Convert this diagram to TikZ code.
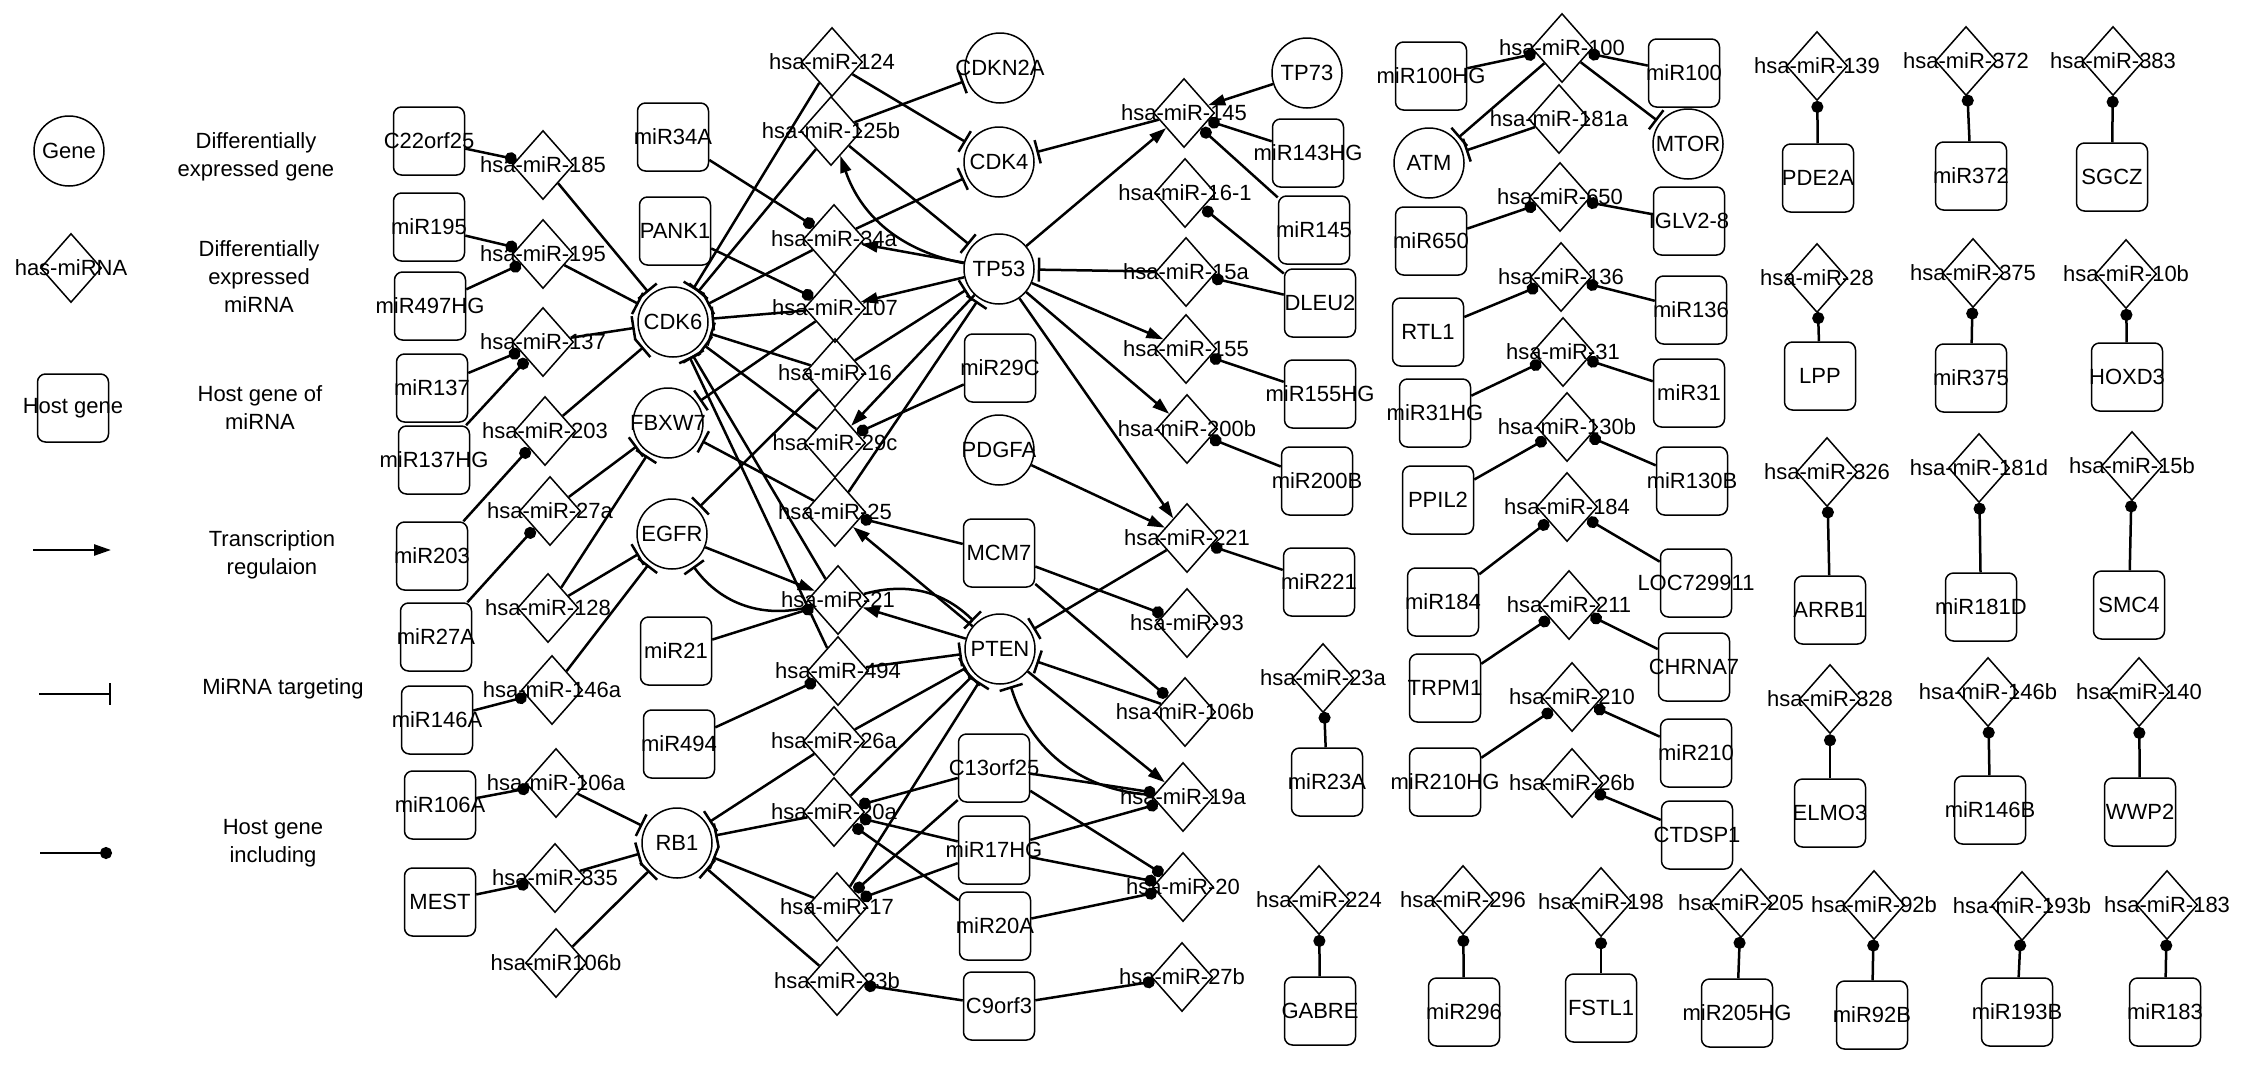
\documentclass[tikz,border=0pt]{standalone}
\usepackage{fontspec}
\setmainfont{Liberation Sans}
\usetikzlibrary{shapes.geometric,arrows.meta}
\tikzset{
  gene/.style={circle,draw,line width=1.5pt,minimum size=70pt,inner sep=0pt},
  mirna/.style={diamond,draw,line width=1.5pt,minimum width=61pt,minimum height=69pt,inner sep=0pt},
  host/.style={rectangle,rounded corners=8pt,draw,line width=1.5pt,minimum width=71pt,minimum height=68pt,inner sep=0pt},
  edge/.style={line width=2.5pt},
  tr/.style={edge,-{Triangle[length=17pt,width=11pt]}},
  tg/.style={edge,-{Bar[width=24pt]},shorten >=3pt},
  inc/.style={edge,-{Circle[length=12pt]}},
  legtext/.style={align=center,inner sep=0pt}
}
\newcommand\gn[3]{\node[gene,label={center:#3}] (#1) at (#2) {};}
\newcommand\hb[3]{\node[host,label={center:#3}] (#1) at (#2) {};}
\newcommand\mr[3]{\node[mirna,label={center:#3}] (#1) at (#2) {};}
\begin{document}
\begin{tikzpicture}[x=1pt,y=-1pt,font=\fontsize{22}{28}\selectfont]
\useasboundingbox (0,0) rectangle (2244,1082);
% ---------------- legend
\gn{LG}{69,151}{Gene}
\mr{LM}{71,268}{has-miRNA}
\hb{LH}{73,408}{Host gene}
\node[legtext] (t1) at (256,157) {Differentially\\expressed gene};
\node[legtext] (t2) at (259,277) {Differentially\\expressed\\miRNA};
\node[legtext] (t3) at (260,408) {Host gene of\\miRNA};
\node[legtext] (t4) at (272,555) {Transcription\\regulaion};
\node[legtext] (t5) at (283,689) {MiRNA targeting};
\node[legtext] (t6) at (273,843) {Host gene\\including};
\coordinate (la1) at (33,550); \coordinate (la2) at (111,550);
\coordinate (lb1) at (39,694); \coordinate (lb2) at (111,694);
\coordinate (lc1) at (40,853); \coordinate (lc2) at (112,853);
\draw[tr] (la1) -- (la2);
\draw[edge,-{Bar[width=22pt]}] (lb1) -- (lb2);
\draw[inc] (lc1) -- (lc2);
% ---------------- genes
\gn{CDK6}{673,322}{CDK6}
\gn{FBXW7}{668,423}{FBXW7}
\gn{EGFR}{672,534}{EGFR}
\gn{RB1}{677,843}{RB1}
\gn{CDKN2A}{1000,68}{CDKN2A}
\gn{CDK4}{999,162}{CDK4}
\gn{TP53}{999,269}{TP53}
\gn{PDGFA}{999,450}{PDGFA}
\gn{PTEN}{1000,649}{PTEN}
\gn{TP73}{1307,73}{TP73}
\gn{ATM}{1429,163}{ATM}
\gn{MTOR}{1688,144}{MTOR}
% ---------------- host genes
\hb{C22orf25}{429,141}{C22orf25}
\hb{miR195}{429,227}{miR195}
\hb{miR497HG}{430,306}{miR497HG}
\hb{miR137}{432,388}{miR137}
\hb{miR137HG}{434,460}{miR137HG}
\hb{miR203}{432,556}{miR203}
\hb{miR27A}{436,637}{miR27A}
\hb{miR146A}{437,720}{miR146A}
\hb{miR106A}{440,805}{miR106A}
\hb{MEST}{440,902}{MEST}
\hb{miR34A}{673,137}{miR34A}
\hb{PANK1}{675,231}{PANK1}
\hb{miR21}{676,651}{miR21}
\hb{miR494}{679,744}{miR494}
\hb{miR29C}{1000,368}{miR29C}
\hb{MCM7}{999,553}{MCM7}
\hb{C13orf25}{994,768}{C13orf25}
\hb{miR17HG}{994,850}{miR17HG}
\hb{miR20A}{995,926}{miR20A}
\hb{C9orf3}{999,1006}{C9orf3}
\hb{miR143HG}{1308,153}{miR143HG}
\hb{miR145}{1314,230}{miR145}
\hb{DLEU2}{1320,303}{DLEU2}
\hb{miR155HG}{1320,394}{miR155HG}
\hb{miR200B}{1317,481}{miR200B}
\hb{miR221}{1319,582}{miR221}
\hb{miR23A}{1327,782}{miR23A}
\hb{GABRE}{1320,1011}{GABRE}
\hb{miR296}{1464,1012}{miR296}
\hb{miR100HG}{1431,76}{miR100HG}
\hb{miR650}{1431,241}{miR650}
\hb{RTL1}{1428,332}{RTL1}
\hb{miR31HG}{1435,413}{miR31HG}
\hb{PPIL2}{1438,500}{PPIL2}
\hb{miR184}{1443,602}{miR184}
\hb{TRPM1}{1445,688}{TRPM1}
\hb{miR210HG}{1445,782}{miR210HG}
\hb{miR100}{1684,73}{miR100}
\hb{IGLV}{1689,221}{IGLV2-8}
\hb{miR136}{1691,310}{miR136}
\hb{miR31}{1689,393}{miR31}
\hb{miR130B}{1692,481}{miR130B}
\hb{LOC}{1696,583}{LOC729911}
\hb{CHRNA7}{1694,667}{CHRNA7}
\hb{miR210}{1696,753}{miR210}
\hb{CTDSP1}{1697,835}{CTDSP1}
\hb{FSTL1}{1601,1008}{FSTL1}
\hb{miR205HG}{1737,1013}{miR205HG}
\hb{miR92B}{1872,1015}{miR92B}
\hb{miR193B}{2017,1012}{miR193B}
\hb{miR183}{2165,1012}{miR183}
\hb{PDE2A}{1818,178}{PDE2A}
\hb{LPP}{1820,376}{LPP}
\hb{ARRB1}{1830,610}{ARRB1}
\hb{ELMO3}{1830,813}{ELMO3}
\hb{miR372}{1971,176}{miR372}
\hb{miR375}{1971,378}{miR375}
\hb{miR181D}{1981,607}{miR181D}
\hb{miR146B}{1990,810}{miR146B}
\hb{SGCZ}{2112,177}{SGCZ}
\hb{HOXD3}{2127,377}{HOXD3}
\hb{SMC4}{2129,605}{SMC4}
\hb{WWP2}{2140,812}{WWP2}
% ---------------- miRNAs
\mr{m185}{543,165}{hsa-miR-185}
\mr{m195}{543,254}{hsa-miR-195}
\mr{m137}{543,342}{hsa-miR-137}
\mr{m203}{545,431}{hsa-miR-203}
\mr{m27a}{550,511}{hsa-miR-27a}
\mr{m128}{548,608}{hsa-miR-128}
\mr{m146a}{552,690}{hsa-miR-146a}
\mr{m106a}{556,783}{hsa-miR-106a}
\mr{m335}{555,878}{hsa-miR-335}
\mr{m106bL}{556,963}{hsa-miR106b}
\mr{m124}{832,62}{hsa-miR-124}
\mr{m125b}{831,131}{hsa-miR-125b}
\mr{m34a}{834,239}{hsa-miR-34a}
\mr{m107}{835,308}{hsa-miR-107}
\mr{m16}{835,373}{hsa-miR-16}
\mr{m29c}{835,443}{hsa-miR-29c}
\mr{m25}{835,512}{hsa-miR-25}
\mr{m21}{838,600}{hsa-miR-21}
\mr{m494}{838,671}{hsa-miR-494}
\mr{m26a}{834,741}{hsa-miR-26a}
\mr{m20a}{834,812}{hsa-miR-20a}
\mr{m17}{837,907}{hsa-miR-17}
\mr{m23b}{837,981}{hsa-miR-23b}
\mr{m145}{1184,113}{hsa-miR-145}
\mr{m161}{1185,193}{hsa-miR-16-1}
\mr{m15a}{1186,272}{hsa-miR-15a}
\mr{m155}{1186,349}{hsa-miR-155}
\mr{m200b}{1187,429}{hsa-miR-200b}
\mr{m221}{1187,538}{hsa-miR-221}
\mr{m93}{1187,623}{hsa-miR-93}
\mr{m106bR}{1185,712}{hsa-miR-106b}
\mr{m19a}{1183,797}{hsa-miR-19a}
\mr{m20}{1183,887}{hsa-miR-20}
\mr{m27b}{1182,977}{hsa-miR-27b}
\mr{m23a}{1323,678}{hsa-miR-23a}
\mr{m224}{1319,900}{hsa-miR-224}
\mr{m296}{1463,900}{hsa-miR-296}
\mr{m100}{1562,48}{hsa-miR-100}
\mr{m181a}{1559,119}{hsa-miR-181a}
\mr{m650}{1560,197}{hsa-miR-650}
\mr{m136}{1561,277}{hsa-miR-136}
\mr{m31}{1563,352}{hsa-miR-31}
\mr{m130b}{1567,427}{hsa-miR-130b}
\mr{m184}{1567,507}{hsa-miR-184}
\mr{m211}{1569,605}{hsa-miR-211}
\mr{m210}{1572,697}{hsa-miR-210}
\mr{m26b}{1572,783}{hsa-miR-26b}
\mr{m198}{1601,902}{hsa-miR-198}
\mr{m205}{1741,903}{hsa-miR-205}
\mr{m92b}{1874,905}{hsa-miR-92b}
\mr{m193b}{2022,906}{hsa-miR-193b}
\mr{m183}{2167,905}{hsa-miR-183}
\mr{m139}{1817,66}{hsa-miR-139}
\mr{m28}{1817,278}{hsa-miR-28}
\mr{m326}{1827,472}{hsa-miR-326}
\mr{m328}{1830,699}{hsa-miR-328}
\mr{m372}{1966,61}{hsa-miR-372}
\mr{m375}{1973,273}{hsa-miR-375}
\mr{m181d}{1979,468}{hsa-miR-181d}
\mr{m146b}{1988,692}{hsa-miR-146b}
\mr{m383}{2113,61}{hsa-miR-383}
\mr{m10b}{2126,274}{hsa-miR-10b}
\mr{m15b}{2132,466}{hsa-miR-15b}
\mr{m140}{2139,692}{hsa-miR-140}
% ---------------- host gene including
\foreach \h/\m in {C22orf25/m185,miR195/m195,miR497HG/m195,miR137/m137,miR137HG/m137,
  miR203/m203,miR27A/m27a,miR146A/m146a,miR106A/m106a,MEST/m335,
  miR34A/m34a,PANK1/m107,miR21/m21,miR494/m494,miR29C/m29c,MCM7/m25,MCM7/m93,MCM7/m106bR,
  C13orf25/m20a,C13orf25/m19a,C13orf25/m20,C13orf25/m17,miR17HG/m20a,miR17HG/m19a,miR17HG/m20,miR17HG/m17,
  miR20A/m20a,miR20A/m20,C9orf3/m23b,C9orf3/m27b,
  miR143HG/m145,miR145/m145,DLEU2/m161,DLEU2/m15a,miR155HG/m155,miR200B/m200b,miR221/m221,
  miR23A/m23a,GABRE/m224,miR296/m296,
  miR100HG/m100,miR100/m100,miR650/m650,IGLV/m650,RTL1/m136,miR136/m136,miR31HG/m31,miR31/m31,
  PPIL2/m130b,miR130B/m130b,miR184/m184,LOC/m184,TRPM1/m211,CHRNA7/m211,miR210HG/m210,miR210/m210,CTDSP1/m26b,
  FSTL1/m198,miR205HG/m205,miR92B/m92b,miR193B/m193b,miR183/m183,PDE2A/m139,LPP/m28,ARRB1/m326,ELMO3/m328,
  miR372/m372,miR375/m375,miR181D/m181d,miR146B/m146b,SGCZ/m383,HOXD3/m10b,SMC4/m15b,WWP2/m140}
  {\draw[inc] (\h) -- (\m);}
% ---------------- miRNA targeting
\foreach \m/\g in {m185/CDK6,m195/CDK6,m137/CDK6,m203/CDK6,m27a/FBXW7,m128/FBXW7,m128/EGFR,m146a/EGFR,
  m106a/RB1,m335/RB1,m106bL/RB1,
  m124/CDK6,m124/CDK4,m125b/CDK6,m125b/CDKN2A,m125b/TP53,m34a/CDK6,m34a/CDK4,m107/CDK6,m16/CDK6,m29c/CDK6,
  m21/CDK6,m494/CDK6,m107/FBXW7,m25/FBXW7,m16/EGFR,m16/TP53,m25/TP53,
  m494/PTEN,m26a/PTEN,m20a/PTEN,m17/PTEN,m26a/RB1,m20a/RB1,m17/RB1,m23b/RB1,m221/PTEN,m106bR/PTEN,
  m145/CDK4,m15a/TP53,m100/ATM,m181a/ATM,m100/MTOR}
  {\draw[tg] (\m) -- (\g);}
\draw[tg] (m21) to[bend left=35] (EGFR);
\draw[tg] (m21) to[bend left=30] (PTEN);
\draw[tg] (m19a) to[bend left=35] (PTEN);
% ---------------- transcription regulation
\foreach \g/\m in {TP53/m34a,TP53/m107,TP53/m29c,TP53/m145,TP53/m155,TP53/m200b,TP53/m221,
  TP73/m145,PDGFA/m221,EGFR/m21,PTEN/m21,PTEN/m25,PTEN/m19a}
  {\draw[tr] (\g) -- (\m);}
\draw[tr] (TP53) to[bend left=30] (m125b);
\end{tikzpicture}
\end{document}
